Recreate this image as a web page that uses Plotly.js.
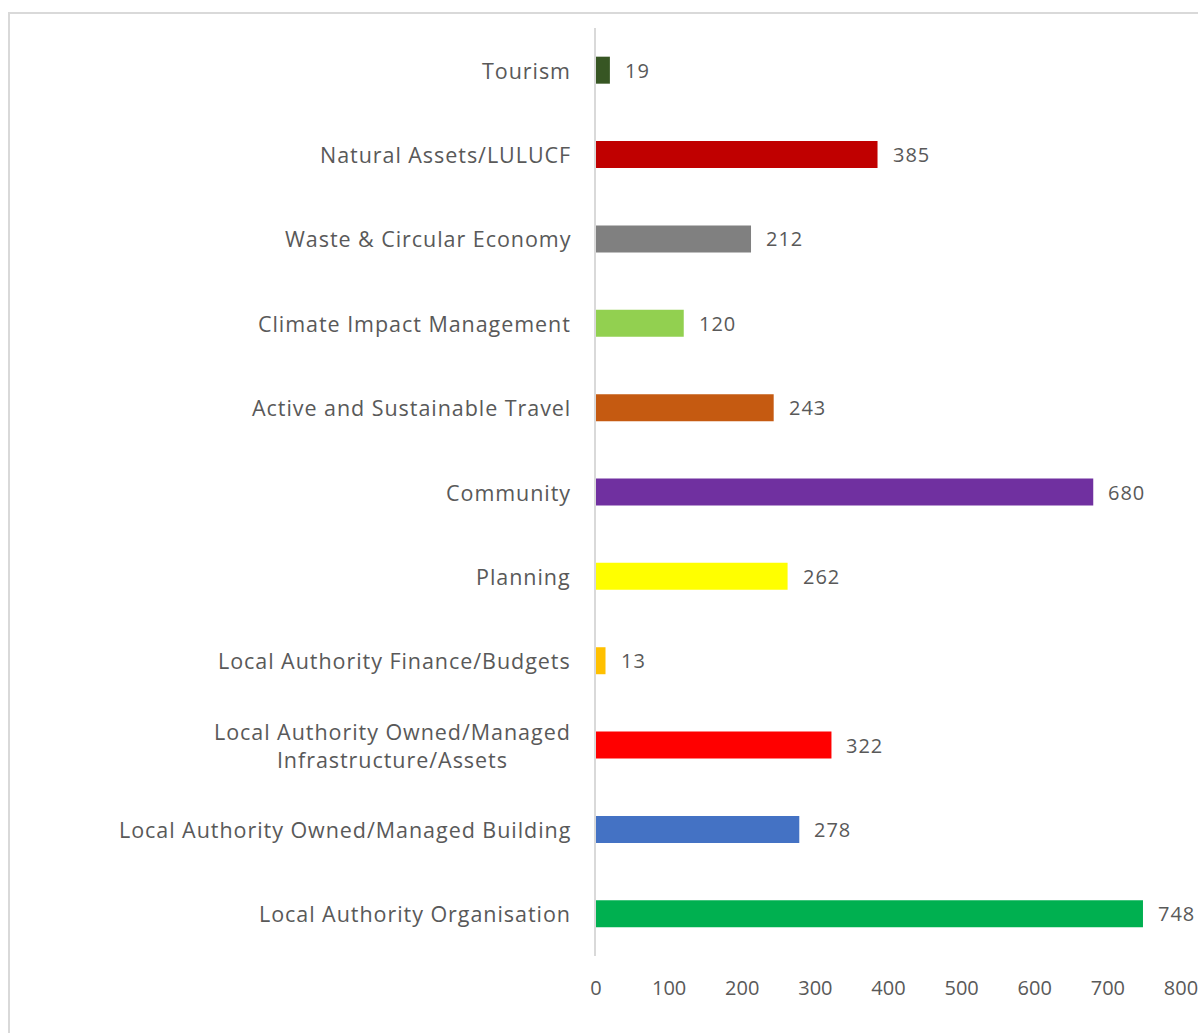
<!DOCTYPE html>
<html>
<head>
<meta charset="utf-8">
<script src="https://cdn.plot.ly/plotly-3.0.1.min.js"></script>
<style>
  html, body { margin: 0; padding: 0; background: #ffffff; }
  #frame { position: absolute; left: 8px; top: 12px; width: 1200px; height: 1030px; border: 2px solid #d9d9d9; box-sizing: border-box; }
  #chart { position: absolute; left: 0; top: 0; width: 1198px; height: 1033px; }
  text.annotation-text { letter-spacing: 0.95px; }
</style>
</head>
<body>
<div id="frame"></div>
<div id="chart"></div>
<script>
// Categories listed top to bottom as in the reference
const categories = [
  "Tourism",
  "Natural Assets/LULUCF",
  "Waste & Circular Economy",
  "Climate Impact Management",
  "Active and Sustainable Travel",
  "Community",
  "Planning",
  "Local Authority Finance/Budgets",
  "Local Authority Owned/Managed<br>Infrastructure/Assets",
  "Local Authority Owned/Managed Building",
  "Local Authority Organisation"
];
const values = [19, 385, 212, 120, 243, 680, 262, 13, 322, 278, 748];
const barColors = ["#375623", "#C00000", "#808080", "#92D050", "#C55A11", "#7030A0", "#FFFF00", "#FFC000", "#FF0000", "#4472C4", "#00B050"];
const xTicks = [0, 100, 200, 300, 400, 500, 600, 700, 800];

const FONT = "'Open Sans', sans-serif";
const TXT = "#595959";

const trace = {
  type: "bar",
  orientation: "h",
  x: values,
  y: categories,
  marker: { color: barColors },
  width: 0.32,
  hoverinfo: "none",
  cliponaxis: false
};

const annotations = [];
values.forEach((v, i) => {
  annotations.push({
    x: v, y: categories[i], xref: "x", yref: "y",
    text: String(v), showarrow: false, xanchor: "left", yanchor: "middle",
    xshift: 13, font: { family: FONT, size: 20, color: TXT }
  });
  annotations.push({
    x: 0, y: categories[i], xref: "paper", yref: "y",
    text: categories[i], showarrow: false, xanchor: "right", yanchor: "middle",
    align: "center", xshift: -23, font: { family: FONT, size: 21.5, color: TXT }
  });
});

const layout = {
  width: 1198, height: 1033,
  margin: { l: 596, r: 17, t: 28, b: 77 },
  paper_bgcolor: "rgba(0,0,0,0)",
  plot_bgcolor: "rgba(0,0,0,0)",
  showlegend: false,
  xaxis: {
    range: [0, 800], tickvals: xTicks, ticktext: xTicks.map(String),
    showgrid: false, zeroline: false, showline: false,
    ticks: "outside", ticklen: 14, tickcolor: "rgba(0,0,0,0)",
    ticklabeloverflow: "allow",
    tickfont: { family: FONT, size: 20, color: TXT }
  },
  yaxis: {
    autorange: "reversed", showticklabels: false,
    showgrid: false, zeroline: false,
    showline: true, linecolor: "#d9d9d9", linewidth: 2, ticks: ""
  },
  annotations: annotations
};

Plotly.newPlot("chart", [trace], layout, { displayModeBar: false, staticPlot: true });
</script>
</body>
</html>
